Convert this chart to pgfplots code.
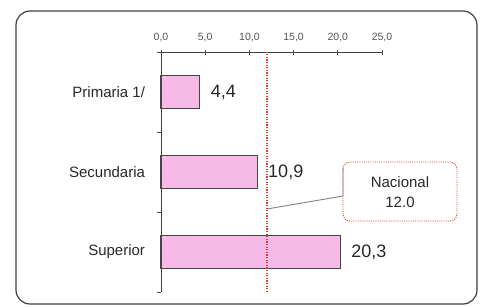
\documentclass[border=0pt]{standalone}
\usepackage{pgfplots}
\pgfplotsset{compat=1.18}
\usepackage{fontspec}
\setmainfont{Liberation Sans}
\definecolor{barpink}{RGB}{247,186,232}
\definecolor{barline}{RGB}{70,70,70}
\definecolor{natred}{RGB}{220,60,40}
\definecolor{txt}{RGB}{40,40,40}
\begin{document}
\begin{tikzpicture}
\begin{axis}[
  scale only axis,
  width=221pt, height=240pt,
  at={(0,0)}, anchor=south west,
  xmin=0, xmax=25, ymin=-0.5, ymax=2.5,
  axis x line=top, axis y line=left,
  axis line style={-, draw=black!75, line width=0.8pt},
  tick align=center,
  xtick={0,5,10,15,20,25},
  x tick label style={font=\fontsize{10.5}{11}\selectfont, text=txt!80,
    /pgf/number format/fixed, /pgf/number format/fixed zerofill,
    /pgf/number format/precision=1, /pgf/number format/use comma,
    /pgf/number format/assume math mode=true, yshift=4pt},
  xtick style={draw=black!70, line width=0.6pt},
  major tick length=5pt,
  ytick={0,1,2},
  yticklabels={Superior,Secundaria,Primaria 1/},
  ytick style={draw=none},
  y tick label style={font=\fontsize{15}{16}\selectfont, text=txt, xshift=-10pt},
  minor ytick={-0.5,0.5,1.5,2.5},
  minor y tick style={draw=black!70, line width=0.6pt, xshift=-2pt},
  minor tick length=4pt,
  clip=false,
]
\addplot[xbar, bar width=33pt, fill=barpink, draw=barline, line width=1.1pt,
  nodes near coords, point meta=explicit symbolic,
  every node near coord/.style={anchor=west, xshift=7pt, font=\fontsize{18}{19}\selectfont, text=txt}]
  table[meta=lab] {
  x y lab
  20.3 0 {20,3}
  10.9 1 {10,9}
  4.4 2 {4,4}
  };
\addplot[draw=natred, line width=1.3pt, dash pattern=on 1.3pt off 1.3pt] coordinates {(12,-0.5) (12,2.5)};
\end{axis}
% callout
\draw[natred, line width=0.9pt, dash pattern=on 1pt off 1.2pt, rounded corners=7pt] (182pt,130pt) rectangle (296pt,71pt);
\draw[black!50, line width=0.9pt] (106pt,83pt) -- (182pt,96pt) -- (182pt,124pt);
\node[font=\fontsize{15}{20}\selectfont, text=txt, align=center] at (239pt,100pt) {Nacional\\12.0};
% frame
\draw[black!75, line width=1.2pt, rounded corners=14pt] (-145pt,-12pt) rectangle (316pt,281pt);
\path (-161pt,-14pt) rectangle (324pt,292pt);
\end{tikzpicture}
\end{document}
